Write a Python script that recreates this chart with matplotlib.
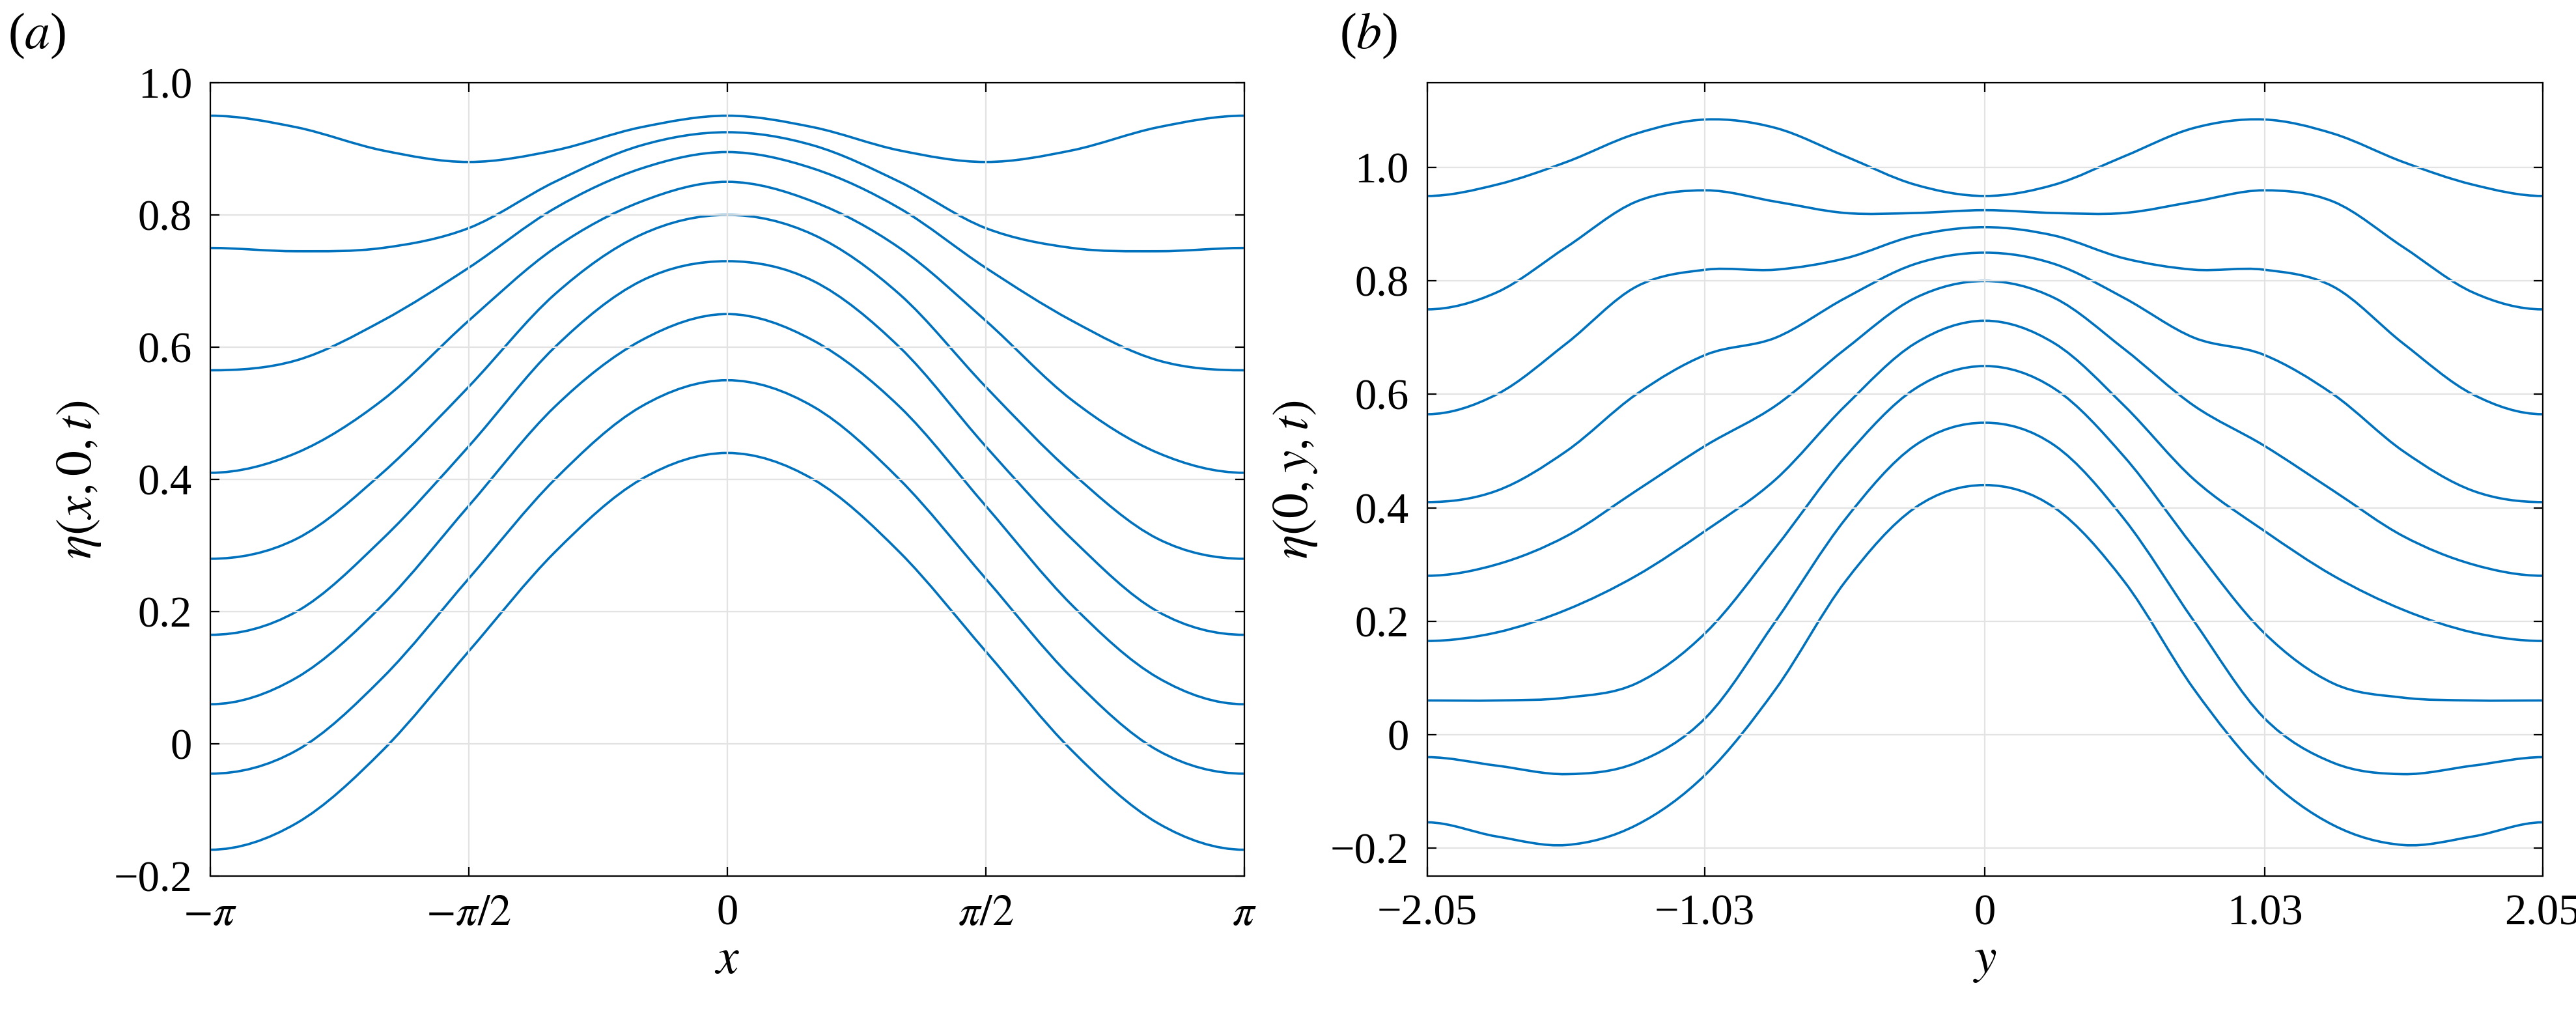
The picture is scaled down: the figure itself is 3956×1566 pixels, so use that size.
import numpy as np
import matplotlib
matplotlib.use("Agg")
import matplotlib.pyplot as plt
from matplotlib.path import Path
from matplotlib.patches import PathPatch

plt.rcParams['font.family'] = ['Liberation Serif', 'DejaVu Serif']
plt.rcParams['mathtext.fontset'] = 'stix'

# Panel (a): x = k*pi/6, k = -6..6 (curves symmetric; values for k=0..6)
xa_half = np.arange(0, 7) * np.pi / 6
curves_a_half = [
    [0.95, 0.9325, 0.8975, 0.88, 0.8975, 0.9325, 0.95],
    [0.925, 0.905, 0.85, 0.78, 0.75, 0.745, 0.75],
    [0.895, 0.87, 0.81, 0.72, 0.64, 0.58, 0.565],
    [0.85, 0.82, 0.75, 0.64, 0.52, 0.44, 0.41],
    [0.80, 0.77, 0.68, 0.54, 0.41, 0.31, 0.28],
    [0.73, 0.70, 0.60, 0.45, 0.31, 0.20, 0.165],
    [0.65, 0.61, 0.51, 0.36, 0.21, 0.10, 0.06],
    [0.55, 0.51, 0.40, 0.25, 0.10, -0.01, -0.045],
    [0.44, 0.40, 0.29, 0.14, -0.01, -0.12, -0.16],
]
# Panel (b): y = k*2.05/8, k = -8..8 (values for k=0..8)
yb_half = np.arange(0, 9) * 2.05 / 8
curves_b_half = [
    [0.95, 0.97, 1.02, 1.07, 1.085, 1.06, 1.01, 0.97, 0.95],
    [0.925, 0.92, 0.92, 0.94, 0.96, 0.94, 0.86, 0.78, 0.75],
    [0.895, 0.88, 0.84, 0.82, 0.82, 0.79, 0.69, 0.60, 0.565],
    [0.85, 0.83, 0.77, 0.70, 0.67, 0.60, 0.50, 0.43, 0.41],
    [0.80, 0.77, 0.68, 0.58, 0.51, 0.43, 0.35, 0.30, 0.28],
    [0.73, 0.69, 0.58, 0.45, 0.36, 0.28, 0.22, 0.18, 0.165],
    [0.65, 0.61, 0.49, 0.33, 0.18, 0.09, 0.065, 0.06, 0.06],
    [0.55, 0.51, 0.38, 0.20, 0.03, -0.05, -0.07, -0.055, -0.04],
    [0.44, 0.40, 0.27, 0.08, -0.07, -0.16, -0.195, -0.18, -0.155],
]
xa_ticks = [-np.pi, -np.pi/2, 0, np.pi/2, np.pi]
xa_labels = [r'$-\pi$', r'$-\pi/2$', '0', r'$\pi/2$', r'$\pi$']
yb_ticks = [-2.05, -1.03, 0, 1.03, 2.05]
yb_labels = ['\u22122.05', '\u22121.03', '0', '1.03', '2.05']
y_ticks = [-0.2, 0, 0.2, 0.4, 0.6, 0.8, 1.0]
y_labels = ['\u22120.2', '0', '0.2', '0.4', '0.6', '0.8', '1.0']

def mirror(h):
    h = np.asarray(h, dtype=float)
    return np.concatenate([h[:0:-1], h])

def smooth_path(x, y):
    # Catmull-Rom through the points, drawn as cubic Bezier segments (periodic ends)
    n = len(x)
    xe = np.concatenate([[2*x[0]-x[1]], x, [2*x[-1]-x[-2]]])
    ye = np.concatenate([[y[-2]], y, [y[1]]])
    verts = [(x[0], y[0])]
    codes = [Path.MOVETO]
    for i in range(1, n):
        p0 = np.array([xe[i-1], ye[i-1]]); p1 = np.array([xe[i], ye[i]])
        p2 = np.array([xe[i+1], ye[i+1]]); p3 = np.array([xe[i+2], ye[i+2]])
        c1 = p1 + (p2 - p0) / 6
        c2 = p2 - (p3 - p1) / 6
        verts += [tuple(c1), tuple(c2), tuple(p2)]
        codes += [Path.CURVE4] * 3
    return Path(verts, codes)

color = '#0072BD'
fig = plt.figure(figsize=(19.78, 7.83), dpi=200)
axa = fig.add_axes([0.0816, 0.141, 0.4014, 0.778])
axb = fig.add_axes([0.554, 0.141, 0.433, 0.778])

xa = np.concatenate([-xa_half[:0:-1], xa_half])
for c in curves_a_half:
    axa.add_patch(PathPatch(smooth_path(xa, mirror(c)), fc='none', ec=color, lw=1.3))
yb = np.concatenate([-yb_half[:0:-1], yb_half])
for c in curves_b_half:
    axb.add_patch(PathPatch(smooth_path(yb, mirror(c)), fc='none', ec=color, lw=1.3))

for ax in (axa, axb):
    ax.grid(True, color='#e3e3e3', lw=0.8)
    ax.tick_params(direction='in', labelsize=24, length=5, top=True, right=True, pad=10)
    for s in ax.spines.values():
        s.set_linewidth(0.8)
    ax.set_yticks(y_ticks)
    ax.set_yticklabels(y_labels)

axa.set_xlim(-np.pi, np.pi)
axa.set_ylim(-0.2, 1.0)
axa.set_xticks(xa_ticks)
axa.set_xticklabels(xa_labels)
axa.set_xlabel(r'$x$', fontsize=28, labelpad=2)
axa.set_ylabel(r'$\eta(x,0,t)$', fontsize=28, labelpad=6)

axb.set_xlim(-2.05, 2.05)
axb.set_ylim(-0.25, 1.15)
axb.set_xticks(yb_ticks)
axb.set_xticklabels(yb_labels)
axb.set_xlabel(r'$y$', fontsize=28, labelpad=2)
axb.set_ylabel(r'$\eta(0,y,t)$', fontsize=28, labelpad=6)

fig.text(0.003, 0.965, r'($a$)', fontsize=28, va='center')
fig.text(0.52, 0.965, r'($b$)', fontsize=28, va='center')

fig.savefig('out.png', dpi=200)
